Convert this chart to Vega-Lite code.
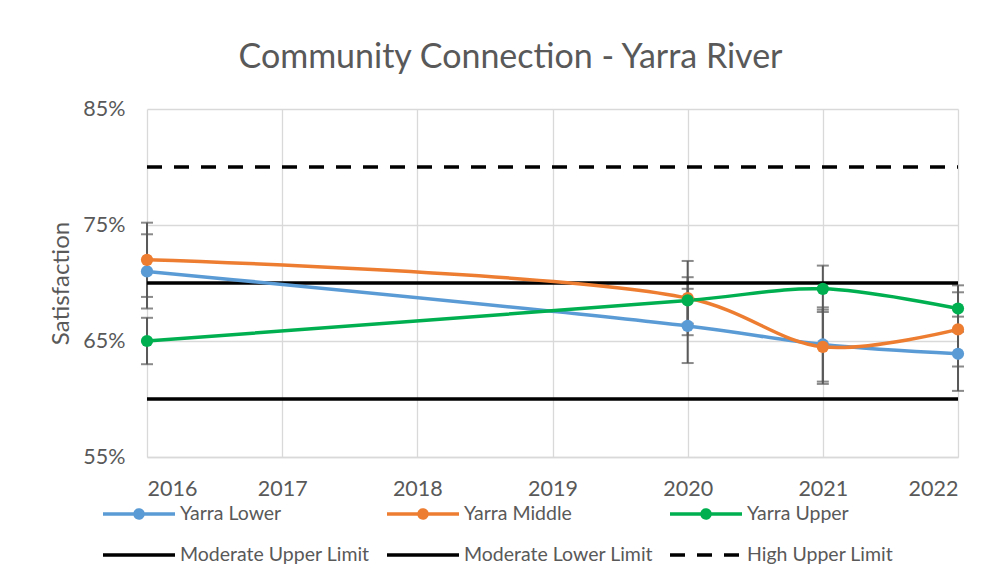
{
  "$schema": "https://vega.github.io/schema/vega-lite/v6.json",
  "autosize": "none",
  "padding": {"left": 147, "top": 109, "right": 42, "bottom": 122},
  "width": 811,
  "height": 348,
  "background": "white",
  "title": {
    "text": "Community Connection - Yarra River",
    "font": "Lato",
    "fontSize": 34,
    "fontWeight": "normal",
    "color": "#595959",
    "anchor": "middle",
    "frame": "group",
    "dx": -42,
    "offset": 23
  },
  "datasets": {
    "yarra": [
      {"year": 2016, "series": "Yarra Lower", "value": 0.710, "err": 0.032},
      {"year": 2020, "series": "Yarra Lower", "value": 0.663, "err": 0.032},
      {"year": 2021, "series": "Yarra Lower", "value": 0.647, "err": 0.032},
      {"year": 2022, "series": "Yarra Lower", "value": 0.639, "err": 0.032},
      {"year": 2016, "series": "Yarra Middle", "value": 0.720, "err": 0.032},
      {"year": 2020, "series": "Yarra Middle", "value": 0.687, "err": 0.032},
      {"year": 2021, "series": "Yarra Middle", "value": 0.645, "err": 0.032},
      {"year": 2022, "series": "Yarra Middle", "value": 0.660, "err": 0.032},
      {"year": 2016, "series": "Yarra Upper", "value": 0.650, "err": 0.020},
      {"year": 2020, "series": "Yarra Upper", "value": 0.685, "err": 0.020},
      {"year": 2021, "series": "Yarra Upper", "value": 0.695, "err": 0.020},
      {"year": 2022, "series": "Yarra Upper", "value": 0.678, "err": 0.020}
    ],
    "limits": [
      {"year": 2016, "series": "Moderate Upper Limit", "value": 0.70},
      {"year": 2017, "series": "Moderate Upper Limit", "value": 0.70},
      {"year": 2018, "series": "Moderate Upper Limit", "value": 0.70},
      {"year": 2019, "series": "Moderate Upper Limit", "value": 0.70},
      {"year": 2020, "series": "Moderate Upper Limit", "value": 0.70},
      {"year": 2021, "series": "Moderate Upper Limit", "value": 0.70},
      {"year": 2022, "series": "Moderate Upper Limit", "value": 0.70},
      {"year": 2016, "series": "Moderate Lower Limit", "value": 0.60},
      {"year": 2017, "series": "Moderate Lower Limit", "value": 0.60},
      {"year": 2018, "series": "Moderate Lower Limit", "value": 0.60},
      {"year": 2019, "series": "Moderate Lower Limit", "value": 0.60},
      {"year": 2020, "series": "Moderate Lower Limit", "value": 0.60},
      {"year": 2021, "series": "Moderate Lower Limit", "value": 0.60},
      {"year": 2022, "series": "Moderate Lower Limit", "value": 0.60},
      {"year": 2016, "series": "High Upper Limit", "value": 0.80},
      {"year": 2017, "series": "High Upper Limit", "value": 0.80},
      {"year": 2018, "series": "High Upper Limit", "value": 0.80},
      {"year": 2019, "series": "High Upper Limit", "value": 0.80},
      {"year": 2020, "series": "High Upper Limit", "value": 0.80},
      {"year": 2021, "series": "High Upper Limit", "value": 0.80},
      {"year": 2022, "series": "High Upper Limit", "value": 0.80}
    ]
  },
  "config": {
    "view": {"stroke": null},
    "axis": {
      "labelFont": "Lato",
      "labelColor": "#595959",
      "titleFont": "Lato",
      "titleColor": "#595959",
      "gridColor": "#d9d9d9",
      "gridWidth": 1.3,
      "ticks": false,
      "tickSize": 0
    },
    "legend": {
      "orient": "none",
      "direction": "horizontal",
      "legendX": -46,
      "legendY": 393,
      "columns": 3,
      "labelFont": "Lato",
      "labelFontSize": 19.5,
      "labelColor": "#595959",
      "symbolSize": 400,
      "symbolStrokeWidth": 3.5,
      "labelOffset": 55,
      "rowPadding": 18,
      "columnPadding": 10,
      "labelLimit": 300
    }
  },
  "encoding": {
    "x": {
      "field": "year",
      "type": "quantitative",
      "scale": {"domain": [2016, 2022], "nice": false, "zero": false},
      "axis": {
        "title": null,
        "values": [2016, 2017, 2018, 2019, 2020, 2021, 2022],
        "format": "d",
        "labelFontSize": 21.5,
        "labelPadding": 21,
        "domain": true,
        "domainColor": "#d9d9d9",
        "domainWidth": 1.3,
        "grid": true
      }
    },
    "y": {
      "field": "value",
      "type": "quantitative",
      "scale": {"domain": [0.55, 0.85], "nice": false, "zero": false},
      "axis": {
        "title": "Satisfaction",
        "titleFontSize": 24,
        "titleFontWeight": "normal",
        "titlePadding": 9,
        "values": [0.55, 0.65, 0.75, 0.85],
        "format": ".0%",
        "labelFontSize": 21.5,
        "labelPadding": 22,
        "domain": false,
        "grid": true
      }
    }
  },
  "layer": [
    {
      "data": {"name": "yarra"},
      "mark": {
        "type": "errorbar",
        "color": "#595959",
        "thickness": 2,
        "ticks": {"size": 12, "thickness": 2, "color": "#595959"},
        "rule": {"strokeWidth": 2, "color": "#595959"}
      },
      "encoding": {
        "yError": {"field": "err"}
      }
    },
    {
      "data": {"name": "limits"},
      "mark": {"type": "line", "strokeWidth": 3.5},
      "encoding": {
        "color": {
          "field": "series",
          "type": "nominal",
          "scale": {
            "domain": ["Yarra Lower", "Yarra Middle", "Yarra Upper", "Moderate Upper Limit", "Moderate Lower Limit", "High Upper Limit"],
            "range": ["#5B9BD5", "#ED7D31", "#00B050", "#000000", "#000000", "#000000"]
          },
          "legend": {
            "title": null,
            "encode": {
              "symbols": {
                "update": {
                  "shape": {"signal": "indexof(['Yarra Lower','Yarra Middle','Yarra Upper'], datum.value) >= 0 ? 'M-1,0L6.2,0M3.0,0A0.4,0.4,0,1,1,2.2,0A0.4,0.4,0,1,1,3.0,0Z' : 'M-1,0L6.2,0'"},
                  "fill": {"scale": "color", "field": "value"},
                  "stroke": {"scale": "color", "field": "value"},
                  "strokeDash": {"signal": "datum.value === 'High Upper Limit' ? [14, 12] : [1, 0]"},
                  "strokeWidth": {"value": 3.5},
                  "opacity": {"value": 1}
                }
              }
            }
          }
        },
        "strokeDash": {
          "field": "series",
          "type": "nominal",
          "scale": {
            "domain": ["Yarra Lower", "Yarra Middle", "Yarra Upper", "Moderate Upper Limit", "Moderate Lower Limit", "High Upper Limit"],
            "range": [[1, 0], [1, 0], [1, 0], [1, 0], [1, 0], [15, 12]]
          },
          "legend": null
        }
      }
    },
    {
      "data": {"name": "yarra"},
      "mark": {"type": "line", "strokeWidth": 3.5, "interpolate": "catmull-rom"},
      "encoding": {
        "color": {"field": "series", "type": "nominal"}
      }
    },
    {
      "data": {"name": "yarra"},
      "mark": {"type": "point", "filled": true, "size": 150, "opacity": 1},
      "encoding": {
        "color": {"field": "series", "type": "nominal"}
      }
    }
  ]
}
